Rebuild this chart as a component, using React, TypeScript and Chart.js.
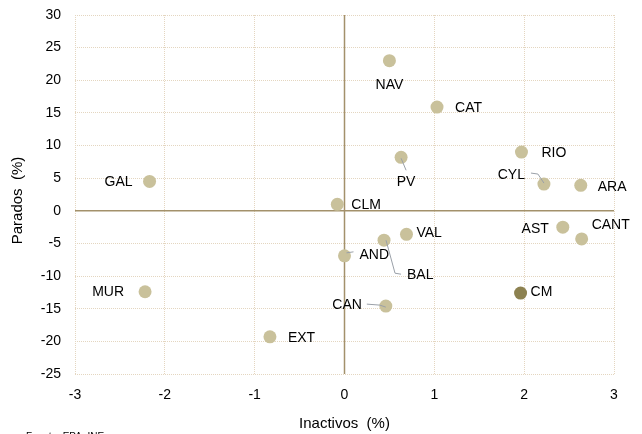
import React, { useEffect, useRef } from "react";
import { Chart, registerables } from "chart.js";

Chart.register(...registerables);

const regions = ["NAV", "CAT", "RIO", "CYL", "ARA", "PV", "GAL", "CLM", "VAL", "BAL", "AND", "AST", "CANT", "CM", "MUR", "CAN", "EXT"];
const inactivos = [0.5, 1.03, 1.97, 2.22, 2.63, 0.63, -2.17, -0.08, 0.69, 0.44, 0.0, 2.43, 2.64, 1.96, -2.22, 0.46, -0.83];
const parados = [23.0, 15.9, 9.0, 4.1, 3.9, 8.2, 4.5, 1.0, -3.6, -4.5, -6.9, -2.5, -4.3, -12.6, -12.4, -14.6, -19.3];
const highlighted = ["CM"];

const xTicks = [-3, -2, -1, 0, 1, 2, 3];
const yTicks = [-25, -20, -15, -10, -5, 0, 5, 10, 15, 20, 25, 30];

// label placement (pixel offsets from the point): dx, dy, align, leader polyline
type LabelPos = { dx: number; dy: number; align: CanvasTextAlign; leader?: number[][] };
const labelLayout: Record<string, LabelPos> = {
  NAV: { dx: 0, dy: 24, align: "center" },
  CAT: { dx: 18, dy: 1, align: "left" },
  RIO: { dx: 20, dy: 1, align: "left" },
  CYL: { dx: -19, dy: -9, align: "right", leader: [[-13, -11], [-6, -10], [0, -1]] },
  ARA: { dx: 17, dy: 2, align: "left" },
  PV: { dx: 5, dy: 25, align: "center", leader: [[0, 1], [5, 13]] },
  GAL: { dx: -17, dy: 1, align: "right" },
  CLM: { dx: 14, dy: 1, align: "left" },
  VAL: { dx: 10, dy: -1, align: "left" },
  BAL: { dx: 23, dy: 35, align: "left", leader: [[2, 0], [11, 33], [17, 34]] },
  AND: { dx: 15, dy: -1, align: "left", leader: [[2, -3], [9, -4]] },
  AST: { dx: -14, dy: 2, align: "right" },
  CANT: { dx: 10, dy: -14, align: "left" },
  CM: { dx: 10, dy: -1, align: "left" },
  MUR: { dx: -21, dy: 0, align: "right" },
  CAN: { dx: -24, dy: -1, align: "right", leader: [[-19, -2], [-6, -1], [0, 1]] },
  EXT: { dx: 18, dy: 1, align: "left" },
};

const FONT = "'Liberation Sans', Arial, sans-serif";

export default function App() {
  const ref = useRef<HTMLCanvasElement | null>(null);

  useEffect(() => {
    if (!ref.current) return;
    const overlay = {
      id: "overlay",
      beforeDatasetsDraw(chart: any) {
        const { ctx, chartArea, scales } = chart;
        const x0 = scales.x.getPixelForValue(0);
        const y0 = scales.y.getPixelForValue(0);
        ctx.save();
        ctx.strokeStyle = "#a3916b";
        ctx.lineWidth = 1.5;
        ctx.beginPath();
        ctx.moveTo(x0, chartArea.top);
        ctx.lineTo(x0, chartArea.bottom);
        ctx.moveTo(chartArea.left, y0);
        ctx.lineTo(chartArea.right, y0);
        ctx.stroke();
        ctx.restore();
      },
      afterDatasetsDraw(chart: any) {
        const { ctx, chartArea } = chart;
        const meta = chart.getDatasetMeta(0);
        ctx.save();
        ctx.font = `14px ${FONT}`;
        ctx.fillStyle = "#000";
        ctx.textBaseline = "middle";
        meta.data.forEach((el: any, i: number) => {
          const name = regions[i];
          const lp = labelLayout[name];
          if (!lp) return;
          if (lp.leader) {
            ctx.strokeStyle = "#9aa0a8";
            ctx.lineWidth = 1;
            ctx.beginPath();
            lp.leader.forEach((p, k) => {
              if (k === 0) ctx.moveTo(el.x + p[0], el.y + p[1]);
              else ctx.lineTo(el.x + p[0], el.y + p[1]);
            });
            ctx.stroke();
          }
          ctx.textAlign = lp.align;
          ctx.fillText(name, el.x + lp.dx, el.y + lp.dy);
        });
        // axis titles
        ctx.font = `15px ${FONT}`;
        ctx.textAlign = "center";
        ctx.fillText("Inactivos  (%)", (chartArea.left + chartArea.right) / 2, 424);
        ctx.save();
        ctx.translate(18, (chartArea.top + chartArea.bottom) / 2 + 6);
        ctx.rotate(-Math.PI / 2);
        ctx.fillText("Parados  (%)", 0, 0);
        ctx.restore();
        // source (clipped at bottom)
        ctx.font = `10px ${FONT}`;
        ctx.textAlign = "left";
        ctx.textBaseline = "top";
        ctx.fillText("Fuente: EPA, INE", 26, 432);
        ctx.restore();
      },
    };

    const chart = new Chart(ref.current, {
      type: "scatter",
      data: {
        datasets: [
          {
            data: inactivos.map((x, i) => ({ x, y: parados[i] })),
            backgroundColor: regions.map((r) => (highlighted.includes(r) ? "#8c8150" : "#c9c19b")),
            borderWidth: 0,
            pointRadius: 6.5,
            pointHoverRadius: 6.5,
          },
        ],
      },
      options: {
        animation: false,
        responsive: false,
        devicePixelRatio: 1,
        layout: { padding: { top: 15, right: 28, left: 0, bottom: 0 } },
        plugins: { legend: { display: false }, tooltip: { enabled: false } },
        scales: {
          x: {
            type: "linear",
            min: xTicks[0],
            max: xTicks[xTicks.length - 1],
            afterBuildTicks: (s: any) => {
              s.ticks = xTicks.map((v) => ({ value: v }));
            },
            afterFit: (s: any) => {
              s.height = 60;
              s.paddingLeft = 0;
              s.paddingRight = 0;
            },
            grid: { color: "#e4d6c0", lineWidth: 1, drawTicks: false },
            border: { display: false, dash: [1, 1] },
            ticks: { color: "#000", padding: 13, font: { family: FONT, size: 14 } },
          },
          y: {
            type: "linear",
            min: yTicks[0],
            max: yTicks[yTicks.length - 1],
            afterBuildTicks: (s: any) => {
              s.ticks = yTicks.map((v) => ({ value: v }));
            },
            afterFit: (s: any) => {
              s.width = 75;
              s.paddingTop = 0;
              s.paddingBottom = 0;
            },
            grid: { color: "#e4d6c0", lineWidth: 1, drawTicks: false },
            border: { display: false, dash: [1, 1] },
            ticks: { color: "#000", padding: 14, font: { family: FONT, size: 14 } },
          },
        },
      },
      plugins: [overlay],
    });
    return () => chart.destroy();
  }, []);

  return (
    <div style={{ position: "absolute", left: 0, top: 0, width: 642, height: 434 }}>
      <canvas ref={ref} width={642} height={434} style={{ width: 642, height: 434 }} />
    </div>
  );
}
